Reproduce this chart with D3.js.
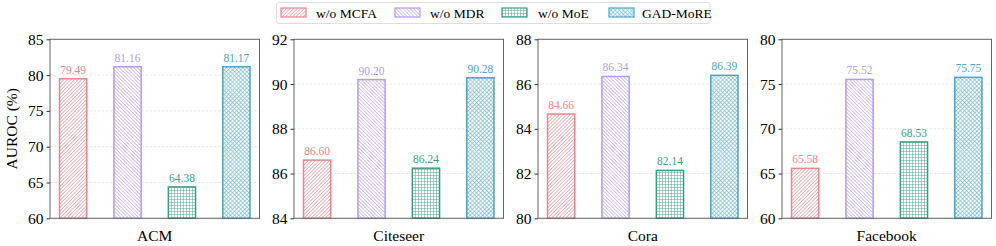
<!DOCTYPE html>
<html>
<head>
<meta charset="utf-8">
<script src="https://cdn.jsdelivr.net/npm/d3@7"></script>
<style>
  body { margin: 0; background: #fff; }
  svg { display: block; }
  svg text { font-family: "Liberation Serif", "Times New Roman", Times, serif; }
</style>
</head>
<body>
<div id="chart"></div>
<script>
// data
const datasets = ["ACM", "Citeseer", "Cora", "Facebook"];
const variants = ["w/o MCFA", "w/o MDR", "w/o MoE", "GAD-MoRE"];
const woMCFA = [79.49, 86.60, 84.66, 65.58];
const woMDR = [81.16, 90.20, 86.34, 75.52];
const woMoE = [64.38, 86.24, 82.14, 68.53];
const gadMoRE = [81.17, 90.28, 86.39, 75.75];
const yDomains = [[60, 85], [84, 92], [80, 88], [60, 80]];
const yTicks = [[60, 65, 70, 75, 80, 85], [84, 86, 88, 90, 92], [80, 82, 84, 86, 88], [60, 65, 70, 75, 80]];

const series = [woMCFA, woMDR, woMoE, gadMoRE];
const colors = ["#f0838d", "#b59af6", "#3a9e86", "#4ca5cd"];
const patIds = ["patA", "patB", "patC", "patD"];

const width = 996, height = 246;
const panelW = 209.5, panelStep = 244, panelLeft = 50;
const plotTop = 39.3, plotBottom = 218.3;

const svg = d3.select("#chart").append("svg")
  .attr("width", width)
  .attr("height", height);

// hatch patterns: "/", "\", "+", "x"
const defs = svg.append("defs");
function linePattern(id, color, angle, size) {
  const p = defs.append("pattern")
    .attr("id", id)
    .attr("patternUnits", "userSpaceOnUse")
    .attr("width", size).attr("height", size)
    .attr("patternTransform", "rotate(" + angle + ")");
  p.append("rect").attr("width", size).attr("height", size).attr("fill", "#fff");
  p.append("line")
    .attr("x1", size / 2).attr("x2", size / 2)
    .attr("y1", 0).attr("y2", size)
    .attr("stroke", color)
    .attr("stroke-width", 0.6);
}
function gridPattern(id, color, angle, size, sw) {
  const p = defs.append("pattern")
    .attr("id", id)
    .attr("patternUnits", "userSpaceOnUse")
    .attr("width", size).attr("height", size)
    .attr("patternTransform", "rotate(" + angle + ")");
  p.append("rect").attr("width", size).attr("height", size).attr("fill", "#fff");
  p.append("line")
    .attr("x1", size / 2).attr("x2", size / 2)
    .attr("y1", 0).attr("y2", size)
    .attr("stroke", color).attr("stroke-width", sw);
  p.append("line")
    .attr("x1", 0).attr("x2", size)
    .attr("y1", size / 2).attr("y2", size / 2)
    .attr("stroke", color).attr("stroke-width", sw);
}
linePattern(patIds[0], colors[0], 45, 2.5);
linePattern(patIds[1], colors[1], -45, 2.5);
gridPattern(patIds[2], colors[2], 0, 3, 0.45);
gridPattern(patIds[3], colors[3], 45, 2.9, 0.5);

const x = d3.scaleLinear().domain([-0.425, 3.425]).range([0, panelW]);
const barW = x(0.5) - x(0);

datasets.forEach((name, k) => {
  const y = d3.scaleLinear().domain(yDomains[k]).range([plotBottom, plotTop]);
  const g = svg.append("g")
    .attr("transform", "translate(" + (panelLeft + k * panelStep) + ",0)");

  // grid
  g.selectAll("line.grid")
    .data(yTicks[k])
    .enter()
    .append("line")
    .attr("x1", 0).attr("x2", panelW)
    .attr("y1", d => y(d)).attr("y2", d => y(d))
    .attr("stroke", "#dcdcdc")
    .attr("stroke-width", 0.7)
    .attr("stroke-dasharray", "2.5,1.5");

  // bars
  const rows = variants.map((v, i) => ({ i: i, value: series[i][k] }));
  g.selectAll("rect.bar")
    .data(rows)
    .enter()
    .append("rect")
    .attr("x", d => x(d.i) - barW / 2)
    .attr("y", d => y(d.value))
    .attr("width", barW)
    .attr("height", d => plotBottom - y(d.value))
    .attr("fill", d => "url(#" + patIds[d.i] + ")")
    .attr("stroke", d => colors[d.i])
    .attr("stroke-width", 1.5);

  // value labels
  g.selectAll("text.val")
    .data(rows)
    .enter()
    .append("text")
    .attr("x", d => x(d.i))
    .attr("y", d => y(d.value) - 5)
    .attr("text-anchor", "middle")
    .attr("fill", d => colors[d.i])
    .style("font-size", "11.5px")
    .text(d => d.value.toFixed(2));

  // frame
  g.append("rect")
    .attr("x", 0).attr("y", plotTop)
    .attr("width", panelW).attr("height", plotBottom - plotTop)
    .attr("fill", "none")
    .attr("stroke", "#666")
    .attr("stroke-width", 1);

  // y axis
  const ax = g.append("g")
    .call(d3.axisLeft(y).tickValues(yTicks[k]).tickSize(3.5).tickPadding(3).tickFormat(d3.format("d")));
  ax.attr("font-family", null);
  ax.select(".domain").remove();
  ax.selectAll("line").attr("stroke", "#333");
  ax.selectAll("text")
    .attr("fill", "#000")
    .style("font-size", "15.5px");

  // x label
  g.append("text")
    .attr("x", panelW / 2)
    .attr("y", 240.5)
    .attr("text-anchor", "middle")
    .style("font-size", "15.5px")
    .text(name);
});

// y axis title
svg.append("text")
  .attr("transform", "translate(17," + ((plotTop + plotBottom) / 2) + ")rotate(-90)")
  .attr("text-anchor", "middle")
  .style("font-size", "15.5px")
  .text("AUROC (%)");

// legend
const legend = svg.append("g");
legend.append("rect")
  .attr("x", 276.5).attr("y", 2.5)
  .attr("width", 433.5).attr("height", 21)
  .attr("rx", 2.5)
  .attr("fill", "#fff")
  .attr("stroke", "#d6d6d6")
  .attr("stroke-width", 0.8);

const legX = [281, 395, 502, 609];
const legTX = [316, 430, 538, 642];
variants.forEach((v, i) => {
  legend.append("rect")
    .attr("x", legX[i]).attr("y", 8)
    .attr("width", 25).attr("height", 9)
    .attr("fill", "url(#" + patIds[i] + ")")
    .attr("stroke", colors[i])
    .attr("stroke-width", 1.2);
  legend.append("text")
    .attr("x", legTX[i])
    .attr("y", 17.5)
    .style("font-size", "13.5px")
    .text(v);
});
</script>
</body>
</html>
